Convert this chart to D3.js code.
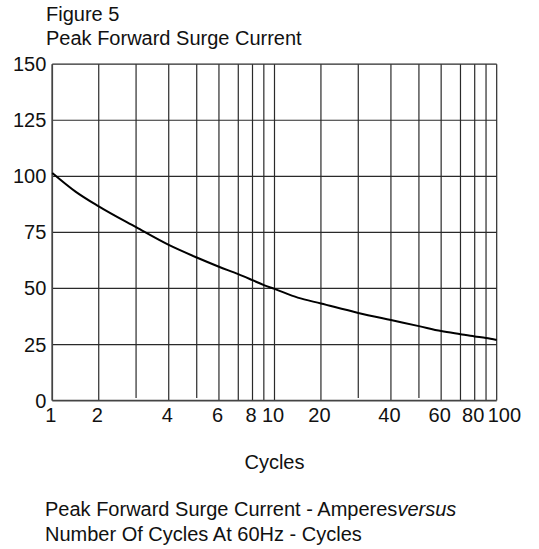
<!DOCTYPE html>
<html>
<head>
<meta charset="utf-8">
<script src="https://cdn.jsdelivr.net/npm/d3@7"></script>
<style>
  html, body { margin: 0; padding: 0; background: #fff; }
  svg { display: block; }
  text { font-family: "Liberation Sans", Arial, sans-serif; fill: #111; }
</style>
</head>
<body>
<script>
// ---- data ----
const cycles  = [1, 1.5, 2, 3, 4, 5, 6, 7, 8, 9, 10, 15, 20, 30, 40, 50, 60, 70, 80, 90, 100];
const current = [101.5, 93.2, 86.6, 77.3, 69.4, 63.8, 59.7, 56.4, 53.7, 51.5, 49.8, 45.9, 43.3, 39.1, 35.9, 33.2, 31.0, 29.6, 28.6, 27.9, 27.0];
const xTickLabels = [1, 2, 4, 6, 8, 10, 20, 40, 60, 80, 100];
const xGridValues = [1, 2, 3, 4, 5, 6, 7, 8, 9, 10, 20, 30, 40, 50, 60, 70, 80, 90, 100];
const yTickValues = [0, 25, 50, 75, 100, 125, 150];
const titleLines = ["Figure 5", "Peak Forward Surge Current"];
const xAxisTitle = "Cycles";
const captionLine1 = "Peak Forward Surge Current - Amperes";
const captionItalic = "versus";
const captionLine2 = "Number Of Cycles At 60Hz - Cycles";

// ---- layout ----
const W = 539, H = 549;
const plot = { left: 52.3, right: 496.7, top: 64.2, bottom: 400.6 };
// printed log-paper: relative position of 1..10 within one decade
const decadeStops = [0, 0.209, 0.377, 0.524, 0.650, 0.750, 0.837, 0.901, 0.952, 1];
const fs = 20;

const svg = d3.select("body").append("svg").attr("width", W).attr("height", H);
svg.append("rect").attr("width", W).attr("height", H).attr("fill", "#fff");

// warped log scale (piecewise linear through decade stops)
const decW = (plot.right - plot.left) / 2;
const dom = [], rng = [];
[1, 10].forEach((base, d) => {
  decadeStops.forEach((f, i) => {
    if (d === 1 && i === 0) return;
    dom.push(base * (i + 1));
    rng.push(plot.left + d * decW + f * decW);
  });
});
const x = d3.scaleLinear().domain(dom).range(rng);
const y = d3.scaleLinear().domain([0, 150]).range([plot.bottom, plot.top]);

const shortGrid = new Set([3, 5, 30, 50]);

// vertical grid
svg.append("g").selectAll("line").data(xGridValues).join("line")
  .attr("x1", d => x(d)).attr("x2", d => x(d))
  .attr("y1", y(150))
  .attr("y2", d => shortGrid.has(d) ? y(0) - 2.5 : y(0))
  .attr("stroke", "#2a2a2a").attr("stroke-width", 1.2);

// horizontal grid
svg.append("g").selectAll("line").data(yTickValues.filter(v => v > 0)).join("line")
  .attr("x1", x(1)).attr("x2", x(100))
  .attr("y1", d => y(d)).attr("y2", d => y(d))
  .attr("stroke", "#2a2a2a").attr("stroke-width", 1.2);

// axes lines (left + bottom)
svg.append("line").attr("x1", x(1)).attr("x2", x(1)).attr("y1", y(150)).attr("y2", y(0))
  .attr("stroke", "#444").attr("stroke-width", 1.6);
svg.append("line").attr("x1", x(1)).attr("x2", x(100)).attr("y1", y(0)).attr("y2", y(0))
  .attr("stroke", "#444").attr("stroke-width", 1.6);

// curve
const pts = cycles.map((c, i) => [c, current[i]]);
svg.append("path").datum(pts)
  .attr("fill", "none").attr("stroke", "#000").attr("stroke-width", 2)
  .attr("stroke-linejoin", "round")
  .attr("d", d3.line().x(d => x(d[0])).y(d => y(d[1])).curve(d3.curveMonotoneX));

// y labels
svg.append("g").selectAll("text").data(yTickValues).join("text")
  .attr("x", plot.left - 6).attr("y", d => y(d) + 7)
  .attr("text-anchor", "end").attr("font-size", fs)
  .text(d => d);

// x labels
svg.append("g").selectAll("text").data(xTickLabels).join("text")
  .attr("x", d => d === 100 ? x(d) - 9 : x(d) - 1.5)
  .attr("y", 422)
  .attr("text-anchor", d => d === 100 ? "start" : "middle")
  .attr("font-size", fs)
  .text(d => d);

// titles
svg.append("g").selectAll("text").data(titleLines).join("text")
  .attr("x", 46).attr("y", (d, i) => 21 + i * 24)
  .attr("font-size", fs).text(d => d);

svg.append("text").attr("x", x(10)).attr("y", 469)
  .attr("text-anchor", "middle").attr("font-size", fs).text(xAxisTitle);

const cap = svg.append("text").attr("x", 45).attr("y", 516).attr("font-size", fs);
cap.append("tspan").text(captionLine1);
cap.append("tspan").attr("font-style", "italic").text(captionItalic);
svg.append("text").attr("x", 45).attr("y", 541).attr("font-size", fs).text(captionLine2);
</script>
</body>
</html>
